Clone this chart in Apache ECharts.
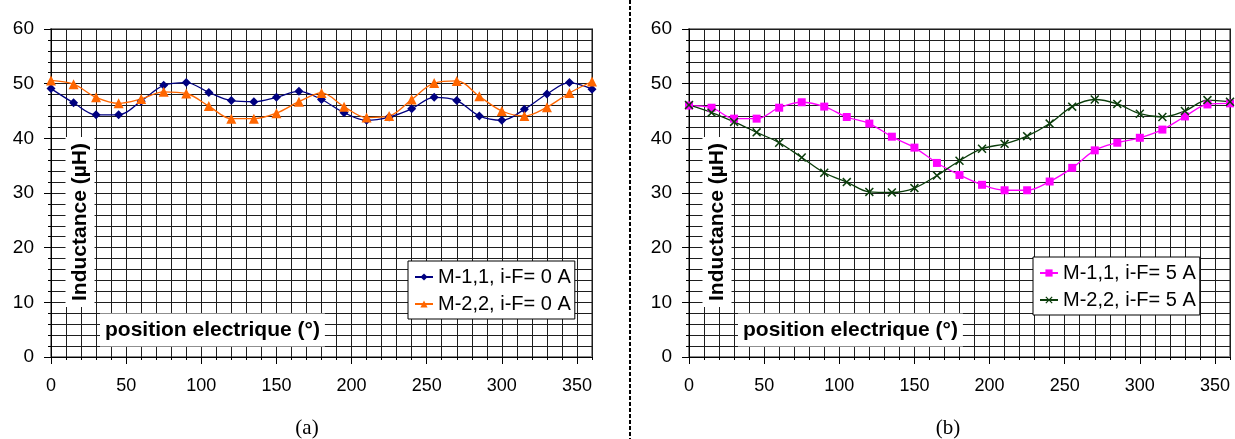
<!DOCTYPE html>
<html>
<head>
<meta charset="utf-8">
<script src="https://cdn.jsdelivr.net/npm/echarts@6/dist/echarts.min.js"></script>
<style>
html,body{margin:0;padding:0;background:#fff;}
#chart{width:1235px;height:439px;}
</style>
</head>
<body>
<div id="chart"></div>
<script>
// positions (electrical degrees)
var positions = [0,15,30,45,60,75,90,105,120,135,150,165,180,195,210,225,240,255,270,285,300,315,330,345,360];
// (a) i-F = 0 A
var m11_0A = [49.1,46.5,44.3,44.3,46.8,49.7,50.2,48.4,46.9,46.7,47.5,48.6,47.1,44.7,43.3,43.9,45.4,47.5,46.9,44.1,43.3,45.3,48.1,50.2,49.0];
var m22_0A = [50.6,49.9,47.5,46.4,47.2,48.5,48.2,45.9,43.6,43.6,44.6,46.7,48.3,45.8,43.8,44.1,47.1,50.1,50.5,47.7,45.0,44.1,45.7,48.3,50.4];
// (b) i-F = 5 A
var m11_5A = [46.0,45.6,43.6,43.6,45.6,46.6,45.8,43.9,42.7,40.3,38.3,35.5,33.3,31.5,30.5,30.5,32.1,34.6,37.8,39.2,40.1,41.6,44.0,46.2,46.4];
var m22_5A = [46.1,44.7,43.0,41.1,39.2,36.5,33.7,32.0,30.2,30.1,30.9,33.2,35.9,38.1,39.0,40.4,42.7,45.8,47.1,46.3,44.5,43.9,45.0,47.0,46.7];
// tick labels
var xTickLabels = [0,50,100,150,200,250,300,350];
var yTickLabels = [0,10,20,30,40,50,60];
var seriesNames = ['M-1,1, i-F= 0 A','M-2,2, i-F= 0 A','M-1,1, i-F= 5 A','M-2,2, i-F= 5 A'];
var yName = 'Inductance (µH)';
var xName = 'position electrique (°)';

function pairs(vals){ return positions.map(function(p,i){ return [p, vals[i]]; }); }

var FONT = '"Liberation Sans", Arial, Helvetica, sans-serif';
var GRIDC = '#1e1e1e';
var crossPath = 'path://M0,1.2L1.2,0L5,3.8L8.8,0L10,1.2L6.2,5L10,8.8L8.8,10L5,6.2L1.2,10L0,8.8L3.8,5Z';

function minorX(g){
  return {type:'value', gridIndex:g, position:'bottom', min:0, max:360, interval:10,
    axisLine:{show:true, lineStyle:{color:'#000', width:1}},
    axisTick:{show:true, inside:false, length:3, lineStyle:{color:'#000'}},
    axisLabel:{show:false},
    splitLine:{show:true, lineStyle:{color:GRIDC, width:1}}};
}
function majorX(g){
  return {type:'value', gridIndex:g, position:'bottom', offset:0, min:0, max:360, interval:50,
    axisLine:{show:false},
    axisTick:{show:true, length:7, lineStyle:{color:'#000'}, customValues:xTickLabels},
    axisLabel:{show:true, margin:20, color:'#000', fontSize:18, fontFamily:FONT, customValues:xTickLabels},
    splitLine:{show:false}};
}
function yAx(g){
  return {type:'value', gridIndex:g, position:'left', min:0, max:60, interval:10,
    axisLine:{show:true, lineStyle:{color:'#000', width:1}},
    axisTick:{show:true, length:7, lineStyle:{color:'#000'}},
    minorTick:{show:true, splitNumber:5, length:3, lineStyle:{color:'#000'}},
    axisLabel:{show:true, margin:17, color:'#000', fontSize:19, fontFamily:FONT},
    splitLine:{show:true, lineStyle:{color:GRIDC, width:1}},
    minorSplitLine:{show:true, lineStyle:{color:GRIDC, width:1}}};
}
function legendFor(names, left, top){
  return {data:names, left:left, top:top, orient:'vertical',
    backgroundColor:'#fff', borderColor:'#000', borderWidth:1,
    padding:[6,4,5,6], itemGap:7, itemWidth:18, itemHeight:9,
    textStyle:{color:'#000', fontSize:20, fontFamily:FONT}};
}
function line(name, data, xi, yi, color, symbol, size){
  return {name:name, type:'line', xAxisIndex:xi, yAxisIndex:yi, data:data,
    smooth:0.35, symbol:symbol, symbolSize:size, showSymbol:true,
    lineStyle:{color:color, width:1.3}, itemStyle:{color:color},
    emphasis:{disabled:true}, animation:false};
}

var chart = echarts.init(document.getElementById('chart'), null, {renderer:'canvas'});
chart.setOption({
  animation:false,
  backgroundColor:'#fff',
  grid:[
    {left:51, top:29, width:541, height:328, show:true, borderColor:'#8a8a8a', borderWidth:2, backgroundColor:'transparent'},
    {left:689, top:29, width:541, height:328, show:true, borderColor:'#8a8a8a', borderWidth:2, backgroundColor:'transparent'}
  ],
  xAxis:[minorX(0), majorX(0), minorX(1), majorX(1)],
  yAxis:[yAx(0), yAx(1)],
  legend:[
    legendFor([seriesNames[0], seriesNames[1]], 408, 261),
    legendFor([seriesNames[2], seriesNames[3]], 1033, 257)
  ],
  series:[
    line(seriesNames[0], pairs(m11_0A), 0, 0, '#000080', 'diamond', 9),
    line(seriesNames[1], pairs(m22_0A), 0, 0, '#FF6600', 'triangle', 10),
    line(seriesNames[2], pairs(m11_5A), 2, 1, '#FF00FF', 'rect', 8),
    line(seriesNames[3], pairs(m22_5A), 2, 1, '#0B3D0B', crossPath, 9)
  ],
  graphic:[
    {type:'line', shape:{x1:630, y1:0, x2:630, y2:439}, style:{stroke:'#000', lineWidth:2, lineDash:[4,2]}, z:10},
    {type:'text', x:80, y:222, rotation:Math.PI/2, z:10,
      style:{text:yName, align:'center', verticalAlign:'middle', font:'bold 21px '+FONT, fill:'#000', backgroundColor:'#fff', padding:[4,6,4,6]}},
    {type:'text', x:717, y:222, rotation:Math.PI/2, z:10,
      style:{text:yName, align:'center', verticalAlign:'middle', font:'bold 21px '+FONT, fill:'#000', backgroundColor:'#fff', padding:[4,6,4,6]}},
    {type:'text', x:100, y:330, z:10,
      style:{text:xName, align:'left', verticalAlign:'middle', font:'bold 21px '+FONT, fill:'#000', backgroundColor:'#fff', padding:[6,5,6,5]}},
    {type:'text', x:738, y:330, z:10,
      style:{text:xName, align:'left', verticalAlign:'middle', font:'bold 21px '+FONT, fill:'#000', backgroundColor:'#fff', padding:[6,5,6,5]}},
    {type:'text', x:307, y:428, z:10,
      style:{text:'(a)', align:'center', verticalAlign:'middle', font:'21px "Liberation Serif", "Times New Roman", serif', fill:'#000'}},
    {type:'text', x:948, y:428, z:10,
      style:{text:'(b)', align:'center', verticalAlign:'middle', font:'21px "Liberation Serif", "Times New Roman", serif', fill:'#000'}}
  ]
});
</script>
</body>
</html>
